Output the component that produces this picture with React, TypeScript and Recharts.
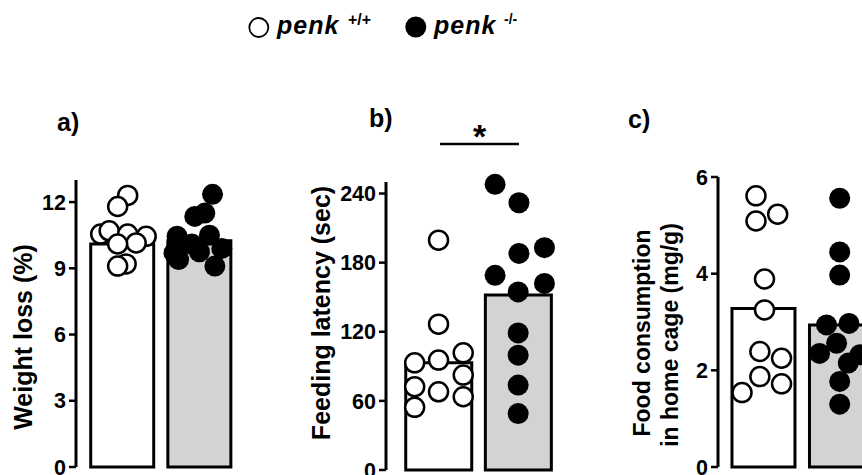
import React from 'react';
import { ComposedChart, Bar, Scatter, XAxis, YAxis, Cell } from 'recharts';

const FONT = '"Liberation Sans", Arial, sans-serif';

const GROUPS = ['penk +/+', 'penk -/-'];
const GROUP_FILLS = ['#ffffff', '#d3d3d3'];

// a) weight loss (%)
const WEIGHT_MEANS = [10.1, 10.25];
const WEIGHT_WT = [12.3, 11.8, 10.55, 10.7, 10.55, 10.45, 10.15, 10.1, 9.2, 9.1];
const WEIGHT_WT_JITTER = [0.07, -0.06, -0.28, -0.17, 0.07, 0.31, 0.18, -0.06, 0.05, -0.06];
const WEIGHT_KO = [12.35, 11.5, 11.35, 10.45, 10.5, 10.1, 9.9, 9.7, 9.75, 9.4, 9.1];
const WEIGHT_KO_JITTER = [0.17, 0.07, -0.06, -0.29, 0.13, -0.1, 0.29, -0.33, 0, -0.27, 0.2];
const WEIGHT_TICKS = [0, 3, 6, 9, 12];

// b) feeding latency (sec)
const LATENCY_MEANS = [93, 152];
const LATENCY_WT = [199.5, 126.6, 101.7, 95.4, 93, 82.4, 72.3, 67.9, 63.6, 54.4];
const LATENCY_WT_JITTER = [0, 0, 0.31, 0, -0.3, 0.31, -0.3, 0, 0.31, -0.3];
const LATENCY_KO = [248, 232, 193, 188, 169, 162, 154.6, 119, 99.7, 73.7, 49];
const LATENCY_KO_JITTER = [-0.29, 0.01, 0.33, 0.01, -0.29, 0.33, 0, 0, 0, 0, 0];
const LATENCY_TICKS = [0, 60, 120, 180, 240];

// c) food consumption in home cage (mg/g)
const FOOD_MEANS = [3.28, 2.94];
const FOOD_WT = [5.61, 5.09, 5.23, 3.89, 3.25, 2.39, 2.25, 1.87, 1.72, 1.54];
const FOOD_WT_JITTER = [-0.1, -0.1, 0.18, 0.01, 0.01, -0.05, 0.23, -0.05, 0.23, -0.28];
const FOOD_KO = [5.56, 4.45, 3.97, 2.94, 2.97, 2.56, 2.35, 2.32, 2.15, 1.77, 1.3];
const FOOD_KO_JITTER = [-0.02, -0.02, -0.02, -0.19, 0.1, -0.06, -0.28, 0.24, 0.09, -0.02, -0.02];
const FOOD_TICKS = [0, 2, 4, 6];

const openDot = (props: any) => (
  <circle cx={props.cx} cy={props.cy} r={9.5} fill="#fff" stroke="#000" strokeWidth={2.5} />
);
const filledDot = (props: any) => (
  <circle cx={props.cx} cy={props.cy} r={10.5} fill="#000" />
);

interface PanelProps {
  left: number;
  width: number;
  axisWidth: number;
  top: number;
  bottom: number;
  yDomain: [number, number];
  yTicks: number[];
  xDomain: [number, number];
  barSize: number;
  means: number[];
  wt: number[];
  wtJitter: number[];
  ko: number[];
  koJitter: number[];
}

function Panel(p: PanelProps) {
  const bars = p.means.map((y, i) => ({ x: i, y, group: GROUPS[i] }));
  const wtPts = p.wt.map((y, i) => ({ x: 0 + p.wtJitter[i], y }));
  const koPts = p.ko.map((y, i) => ({ x: 1 + p.koJitter[i], y }));
  return (
    <div style={{ position: 'absolute', left: p.left, top: 0 }}>
      <ComposedChart
        width={p.width}
        height={500}
        data={bars}
        margin={{ top: p.top, right: 2, bottom: p.bottom, left: 0 }}
      >
        <XAxis xAxisId="bars" dataKey="x" type="number" domain={p.xDomain} hide />
        <XAxis xAxisId="pts" dataKey="x" type="number" domain={p.xDomain} hide />
        <YAxis
          type="number"
          domain={p.yDomain}
          ticks={p.yTicks}
          interval={0}
          width={p.axisWidth}
          tick={{ fill: '#000', fontSize: 21.5, fontWeight: 700, fontFamily: FONT }}
          tickLine={{ stroke: '#000', strokeWidth: 2.5 }}
          axisLine={{ stroke: '#000', strokeWidth: 3 }}
          tickSize={7}
          tickMargin={3}
        />
        <Bar
          xAxisId="bars"
          dataKey="y"
          barSize={p.barSize}
          stroke="#000"
          strokeWidth={3}
          isAnimationActive={false}
        >
          {bars.map((b, i) => (
            <Cell key={`bar-${b.group}`} fill={GROUP_FILLS[i]} />
          ))}
        </Bar>
        <Scatter xAxisId="pts" data={wtPts} dataKey="y" shape={openDot} isAnimationActive={false} />
        <Scatter xAxisId="pts" data={koPts} dataKey="y" shape={filledDot} isAnimationActive={false} />
      </ComposedChart>
    </div>
  );
}

const textStyle = { fontFamily: FONT, fontWeight: 700, fill: '#000' } as const;

export default function App() {
  return (
    <div
      style={{
        position: 'absolute',
        left: 0,
        top: 0,
        width: 862,
        height: 475,
        overflow: 'hidden',
        background: '#fff',
      }}
    >
      <Panel
        left={0}
        width={240}
        axisWidth={76}
        top={180}
        bottom={33}
        yDomain={[0, 13]}
        yTicks={WEIGHT_TICKS}
        xDomain={[-0.6, 1.5]}
        barSize={63}
        means={WEIGHT_MEANS}
        wt={WEIGHT_WT}
        wtJitter={WEIGHT_WT_JITTER}
        ko={WEIGHT_KO}
        koJitter={WEIGHT_KO_JITTER}
      />
      <Panel
        left={300}
        width={256}
        axisWidth={86}
        top={182}
        bottom={30}
        yDomain={[0, 250]}
        yTicks={LATENCY_TICKS}
        xDomain={[-0.66, 1.45]}
        barSize={66}
        means={LATENCY_MEANS}
        wt={LATENCY_WT}
        wtJitter={LATENCY_WT_JITTER}
        ko={LATENCY_KO}
        koJitter={LATENCY_KO_JITTER}
      />
      <Panel
        left={640}
        width={242}
        axisWidth={78}
        top={177}
        bottom={33}
        yDomain={[0, 6]}
        yTicks={FOOD_TICKS}
        xDomain={[-0.59, 1.5]}
        barSize={63}
        means={FOOD_MEANS}
        wt={FOOD_WT}
        wtJitter={FOOD_WT_JITTER}
        ko={FOOD_KO}
        koJitter={FOOD_KO_JITTER}
      />

      <svg
        width={862}
        height={475}
        style={{ position: 'absolute', left: 0, top: 0, pointerEvents: 'none' }}
      >
        {/* legend */}
        <circle cx={258.8} cy={27.5} r={9.5} fill="#fff" stroke="#000" strokeWidth={1.8} />
        <text x={277} y={34} fontSize={25} fontStyle="italic" letterSpacing={1} style={textStyle}>
          penk
        </text>
        <text x={348} y={25} fontSize={16} style={textStyle}>
          +/+
        </text>
        <circle cx={415.8} cy={27} r={10.5} fill="#000" />
        <text x={434} y={34} fontSize={25} fontStyle="italic" letterSpacing={1} style={textStyle}>
          penk
        </text>
        <text x={504} y={24} fontSize={14} style={textStyle}>
          -/-
        </text>

        {/* panel letters */}
        <text x={57} y={131} fontSize={25} style={textStyle}>a)</text>
        <text x={369} y={127} fontSize={25} style={textStyle}>b)</text>
        <text x={628} y={128} fontSize={25} style={textStyle}>c)</text>

        {/* significance */}
        <line x1={440} x2={519} y1={144} y2={144} stroke="#000" strokeWidth={2.5} />
        <text x={479.5} y={148} fontSize={34} textAnchor="middle" style={textStyle}>*</text>

        {/* y axis titles */}
        <text
          transform="translate(23,337) rotate(-90)"
          fontSize={25}
          textAnchor="middle"
          dominantBaseline="central"
          style={textStyle}
        >
          Weight loss (%)
        </text>
        <text
          transform="translate(321,313) rotate(-90)"
          fontSize={25}
          textAnchor="middle"
          dominantBaseline="central"
          style={textStyle}
        >
          Feeding latency (sec)
        </text>
        <text
          transform="translate(642,333) rotate(-90)"
          fontSize={23}
          textAnchor="middle"
          dominantBaseline="central"
          style={textStyle}
        >
          Food consumption
        </text>
        <text
          transform="translate(670,335) rotate(-90)"
          fontSize={23}
          textAnchor="middle"
          dominantBaseline="central"
          style={textStyle}
        >
          in home cage (mg/g)
        </text>
      </svg>
    </div>
  );
}
